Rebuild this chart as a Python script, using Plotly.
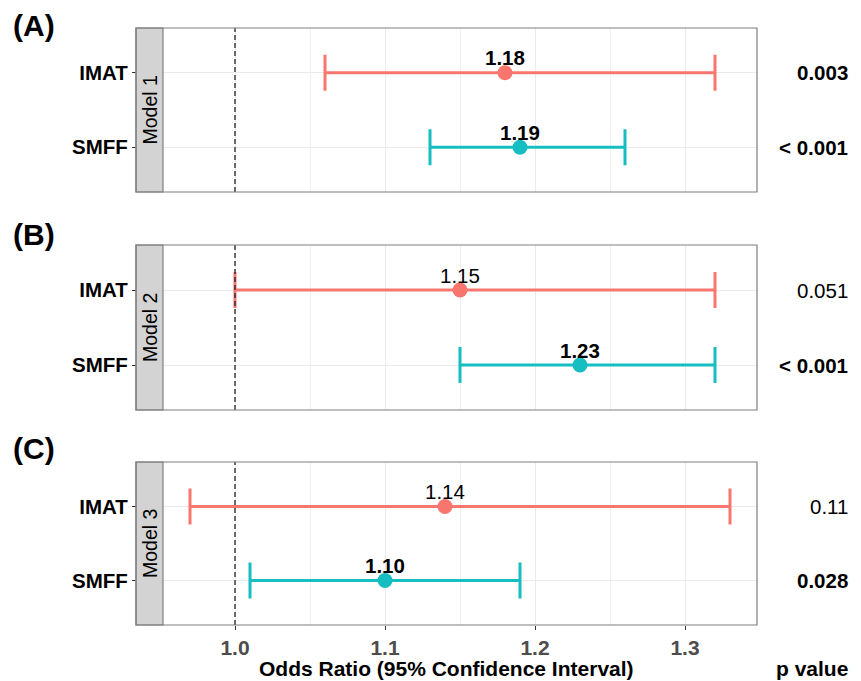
import plotly.graph_objects as go

# ---------------- data ----------------
models = ["Model 1", "Model 2", "Model 3"]
panel_tags = ["(A)", "(B)", "(C)"]
variables = ["IMAT", "SMFF"]

or_imat = [1.18, 1.15, 1.14]
lo_imat = [1.06, 1.00, 0.97]
hi_imat = [1.32, 1.32, 1.33]
p_imat = ["0.003", "0.051", "0.11"]
sig_imat = [True, False, False]

or_smff = [1.19, 1.23, 1.10]
lo_smff = [1.13, 1.15, 1.01]
hi_smff = [1.26, 1.32, 1.19]
p_smff = ["< 0.001", "< 0.001", "0.028"]
sig_smff = [True, True, True]

x_ticks = [1.0, 1.1, 1.2, 1.3]
x_ticklabels = ["1.0", "1.1", "1.2", "1.3"]
x_minor = [1.05, 1.15, 1.25]
ref_line = 1.0

colors = {"IMAT": "#F8766D", "SMFF": "#17BEC1"}

# ---------------- geometry ----------------
W, H = 861, 681
strip_l, panel_l, panel_r = 136, 163, 757
panels = [(28, 192), (245, 410), (462, 625)]
tag_y = [26, 234, 448]
FONT = "Liberation Sans, Arial, Helvetica, sans-serif"

fig = go.Figure()
shapes, annotations = [], []
layout = {}

series = {
    "IMAT": (or_imat, lo_imat, hi_imat, p_imat, sig_imat),
    "SMFF": (or_smff, lo_smff, hi_smff, p_smff, sig_smff),
}
cat_order = variables[::-1]

for i, (top, bot) in enumerate(panels):
    n = "" if i == 0 else str(i + 1)
    xa, ya = "x" + n, "y" + n
    last = i == len(panels) - 1
    layout["xaxis" + n] = dict(
        domain=[panel_l / W, panel_r / W], anchor=ya, range=[0.952, 1.348],
        tickmode="array", tickvals=x_ticks, ticktext=x_ticklabels,
        showticklabels=last, ticks="outside" if last else "", ticklen=4,
        tickcolor="#333333",
        tickfont=dict(family=FONT, size=21, color="#4D4D4D", weight="bold"),
        showgrid=True, gridcolor="#EBEBEB", gridwidth=1.2, zeroline=False,
        showline=False,
        minor=dict(tickvals=x_minor, showgrid=True, gridcolor="#F0F0F0", gridwidth=0.8),
    )
    layout["yaxis" + n] = dict(
        domain=[1 - bot / H, 1 - top / H], anchor="free", position=strip_l / W,
        type="category", categoryorder="array", categoryarray=cat_order,
        range=[-0.6, 1.6], ticks="outside", ticklen=4, tickcolor="#333333",
        tickfont=dict(family=FONT, size=20.5, color="black", weight="bold"),
        showgrid=True, gridcolor="#EBEBEB", gridwidth=1.2, zeroline=False,
        showline=False,
    )
    for v in variables:
        orv, lov, hiv, pv, sg = series[v]
        lab = f"{orv[i]:.2f}"
        fig.add_trace(go.Scatter(
            x=[orv[i]], y=[v], xaxis=xa, yaxis=ya, mode="markers",
            marker=dict(size=15, color=colors[v]),
            error_x=dict(type="data", symmetric=False, array=[hiv[i] - orv[i]],
                         arrayminus=[orv[i] - lov[i]], thickness=3, width=18,
                         color=colors[v]),
            showlegend=False, cliponaxis=False, hoverinfo="skip",
        ))
        # point label
        annotations.append(dict(
            xref=xa, yref=ya, x=orv[i], y=cat_order.index(v), yshift=15,
            xanchor="center", yanchor="middle", showarrow=False,
            text=f"<b>{lab}</b>" if sg[i] else lab,
            font=dict(family=FONT, size=20.5, color="black"),
        ))
        # p value
        annotations.append(dict(
            xref="paper", yref=ya, x=850 / W, y=cat_order.index(v),
            xanchor="right", yanchor="middle", showarrow=False,
            text=f"<b>{pv[i]}</b>" if sg[i] else pv[i],
            font=dict(family=FONT, size=20.5, color="black"),
        ))
    # dashed reference line
    shapes.append(dict(type="line", xref=xa, yref=ya + " domain", x0=ref_line, x1=ref_line,
                       y0=0, y1=1, line=dict(color="#222222", width=1.3, dash="5px,3px")))
    # strip
    shapes.append(dict(type="rect", xref="paper", yref="paper",
                       x0=strip_l / W, x1=panel_l / W, y0=1 - bot / H, y1=1 - top / H,
                       fillcolor="#D3D3D3", line=dict(color="#7F7F7F", width=1.2),
                       layer="above"))
    # panel border
    shapes.append(dict(type="rect", xref="paper", yref="paper",
                       x0=strip_l / W, x1=panel_r / W, y0=1 - bot / H, y1=1 - top / H,
                       fillcolor="rgba(0,0,0,0)", line=dict(color="#7F7F7F", width=1.2),
                       layer="above"))
    annotations.append(dict(
        xref="paper", yref="paper", x=(strip_l + panel_l) / 2 / W,
        y=1 - (top + bot) / 2 / H, text=models[i], textangle=-90, showarrow=False,
        xanchor="center", yanchor="middle",
        font=dict(family=FONT, size=19.5, color="black"),
    ))
    annotations.append(dict(
        xref="paper", yref="paper", x=11 / W, y=1 - tag_y[i] / H,
        text=f"<b>{panel_tags[i]}</b>", showarrow=False, xanchor="left",
        yanchor="middle", font=dict(family=FONT, size=30, color="black"),
    ))

annotations.append(dict(
    xref="paper", yref="paper", x=(strip_l + panel_r) / 2 / W, y=1 - 668 / H,
    text="<b>Odds Ratio (95% Confidence Interval)</b>", showarrow=False,
    xanchor="center", yanchor="middle", font=dict(family=FONT, size=21, color="black"),
))
annotations.append(dict(
    xref="paper", yref="paper", x=850 / W, y=1 - 668 / H,
    text="<b>p value</b>", showarrow=False, xanchor="right", yanchor="middle",
    font=dict(family=FONT, size=21, color="black"),
))

fig.update_layout(
    width=W, height=H, margin=dict(l=0, r=0, t=0, b=0),
    paper_bgcolor="white", plot_bgcolor="white",
    shapes=shapes, annotations=annotations, **layout,
)

fig.write_html("out.html")
